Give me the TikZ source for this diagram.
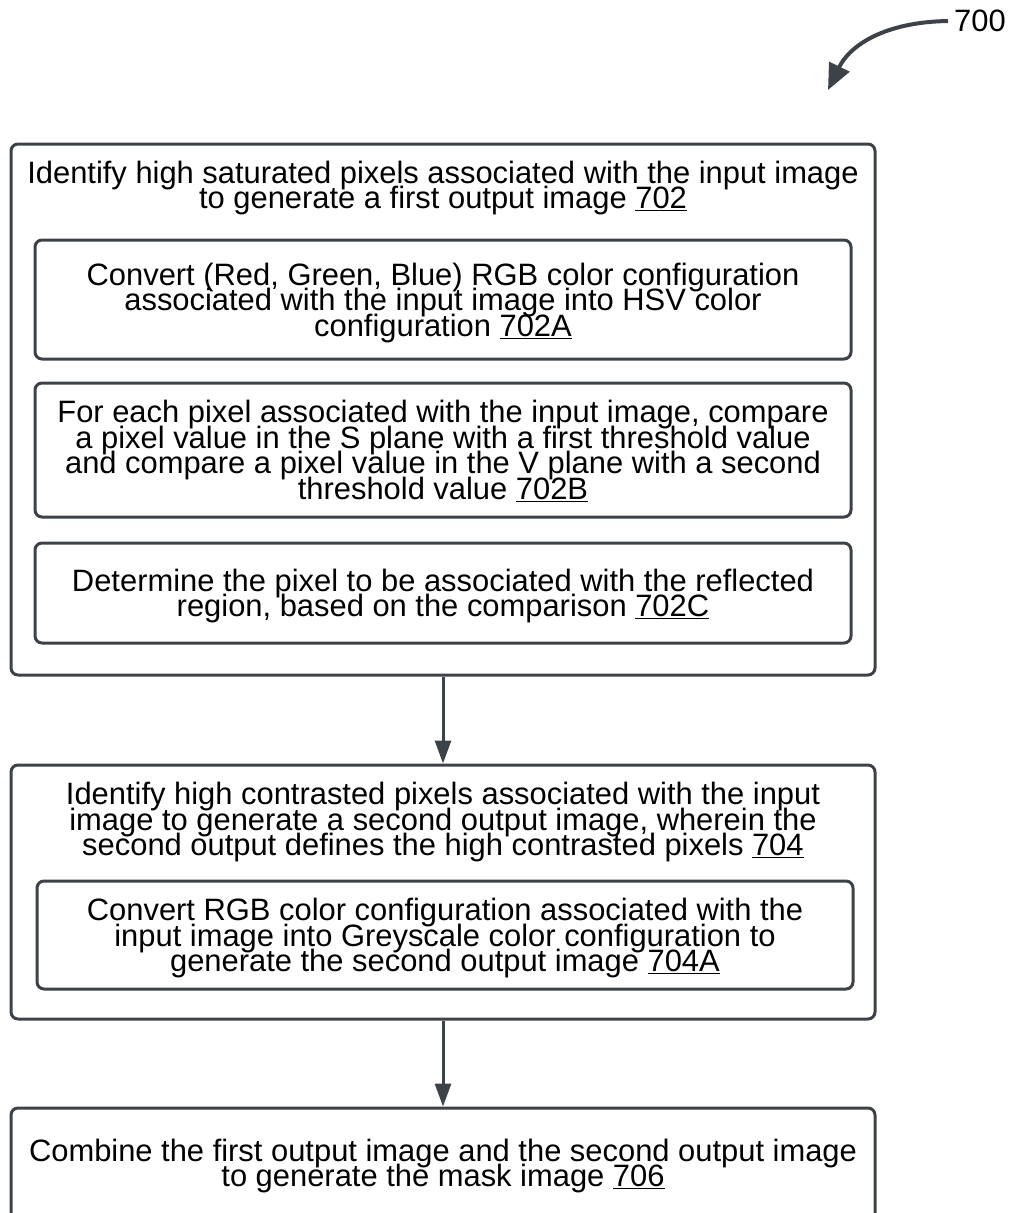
\documentclass[tikz,border=0pt]{standalone}
\usepackage{fontspec}
\setmainfont{Liberation Sans}
\usepackage{tikz}
\usetikzlibrary{arrows.meta,positioning}
\definecolor{edge}{RGB}{61,66,73}
\newcommand\tightlines{\lineskiplimit=-100pt\relax}
\tikzset{
  grp/.style={draw=edge,line width=3pt,rounded corners=7pt,fill=white},
  blk/.style={draw=edge,line width=3pt,rounded corners=7pt,minimum width=816,inner sep=0pt},
  txt/.style={align=center,inner sep=0pt,
              font=\fontsize{30.9}{25.7}\selectfont\tightlines},
  flow/.style={-{Triangle[length=23pt,width=16pt]},line width=3pt,draw=edge},
  ref/.style={-{Triangle[length=26pt,width=22pt]},line width=4pt,draw=edge},
}
\begin{document}
\begin{tikzpicture}[x=1pt,y=1pt]
  \useasboundingbox (0,0) rectangle (1011,-1213);

  % --- 702 ---------------------------------------------------------------
  \node[grp,minimum width=864,minimum height=531] (s702) at (443,-409.5) {};
  \node[txt] (t702) at (443,-188)
        {Identify high saturated pixels associated with the input image\\
         to generate a first output image \underline{702}};
  \node[blk,minimum height=119] (s702a) at (443,-299.5) {};
  \node[txt] at (443,-303) {Convert (Red, Green, Blue) RGB color configuration\\
         associated with the input image into HSV color\\
         configuration \underline{702A}};
  \node[blk,minimum height=134] (s702b) at (443,-450) {};
  \node[txt] at (443,-451) {For each pixel associated with the input image, compare\\
         a pixel value in the S plane with a first threshold value\\
         and compare a pixel value in the V plane with a second\\
         threshold value \underline{702B}};
  \node[blk,minimum height=100] (s702c) at (443,-593) {};
  \node[txt] at (443,-596) {Determine the pixel to be associated with the reflected\\
         region, based on the comparison \underline{702C}};

  % --- 704 ---------------------------------------------------------------
  \node[grp,minimum width=864,minimum height=254] (s704) at (443,-892) {};
  \node[txt] (t704) at (443,-822)
        {Identify high contrasted pixels associated with the input\\
         image to generate a second output image, wherein the\\
         second output defines the high contrasted pixels \underline{704}};
  \node[blk,minimum height=108] (s704a) at (445,-935) {};
  \node[txt] at (445,-938) {Convert RGB color configuration associated with the\\
         input image into Greyscale color configuration to\\
         generate the second output image \underline{704A}};

  % --- 706 ---------------------------------------------------------------
  \node[grp,minimum width=864,minimum height=120] (s706) at (443,-1168) {};
  \node[txt] (t706) at (443,-1166)
        {Combine the first output image and the second output image\\
         to generate the mask image \underline{706}};

  % --- links -------------------------------------------------------------
  \draw[flow] (s702.south) -- (s704.north);
  \draw[flow] (s704.south) -- (s706.north);

  % reference numeral
  \node[txt,anchor=west] (n700) at (954,-21) {700};
  \coordinate (tip700) at (828,-90);
  \draw[ref] (n700.west) ++(-6,0) .. controls (885,-22) and (850,-45) .. (tip700);
\end{tikzpicture}
\end{document}
